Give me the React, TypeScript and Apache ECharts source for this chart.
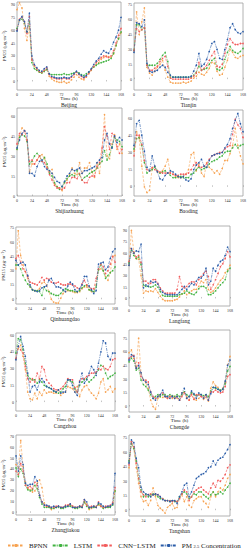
import React, { useEffect, useRef } from "react";
import * as echarts from "echarts";

const hours = [0, 4, 8, 12, 16, 20, 24, 28, 32, 36, 40, 44, 48, 52, 56, 60, 64, 68, 72, 76, 80, 84, 88, 92, 96, 100, 104, 108, 112, 116, 120, 124, 128, 132, 136, 140, 144, 148, 152, 156, 160, 164, 168];
const xTicks = [0, 24, 48, 72, 96, 120, 144, 168];
const cities = ["Beijing", "Tianjin", "Shijiazhuang", "Baoding", "Qinhuangdao", "Langfang", "Cangzhou", "Chengde", "Zhangjiakou", "Tangshan"];
const seriesNames = ["BPNN", "LSTM", "CNN\u2212LSTM", "PM2.5 Concentration"];
const yMins = [-10, -11, 0, -8, -5, -10, -8, -6, -2, -6];
const yMaxs = [93, 77, 66, 67, 76, 96, 62, 84, 71, 78];
const ySteps = [15, 15, 15, 15, 15, 15, 15, 15, 10, 15];

// Beijing
const beijingBPNN = [84, 92, 86, 62, 48, 64, 25, 18, 14, 11, 10, 12, 14, 6, 3, 1, 0, -1, -1, 0, -2, -1, 2, 5, 8, 5, 3, 2, 5, 9, 13, 17, 20, 22, 26, 28, 30, 29, 28, 32, 42, 50, 57];
const beijingLSTM = [62, 72, 73, 68, 58, 70, 22, 15, 13, 11, 10, 12, 14, 9, 8, 8, 8, 8, 8, 9, 8, 8, 9, 10, 11, 10, 8, 7, 9, 11, 14, 17, 19, 21, 22, 23, 24, 25, 27, 33, 42, 50, 58];
const beijingCNN = [60, 73, 75, 70, 56, 76, 26, 19, 15, 12, 11, 13, 16, 8, 5, 4, 3, 3, 3, 4, 3, 3, 5, 8, 11, 8, 6, 4, 6, 10, 14, 18, 22, 25, 28, 30, 29, 28, 30, 36, 45, 54, 62];
const beijingPM = [59, 72, 76, 70, 58, 80, 30, 20, 16, 13, 12, 15, 17, 9, 6, 5, 4, 4, 4, 5, 4, 4, 6, 9, 12, 9, 7, 5, 7, 11, 15, 20, 24, 27, 32, 36, 34, 33, 38, 46, 52, 60, 75];
// Tianjin
const tianjinBPNN = [29, 68, 45, 58, 72, 12, 6, 4, 8, 12, 15, 19, 9, 2, -3, -4, -4, -4, -4, -3, -4, -3, -2, 1, 3, 7, 5, 4, 7, 11, 17, 16, 8, 4, 5, 12, 19, 30, 27, 22, 21, 23, 24];
const tianjinLSTM = [29, 55, 55, 50, 52, 14, 14, 14, 14, 16, 20, 24, 27, 18, 2, 2, 2, 2, 2, 2, 2, 2, 2, 4, 7, 13, 9, 10, 11, 15, 19, 21, 10, 9, 11, 20, 27, 33, 29, 27, 26, 28, 31];
const tianjinCNN = [29, 51, 48, 50, 52, 14, 9, 9, 11, 13, 18, 21, 23, 13, 1, 0, 0, 0, 0, 0, 0, 0, 1, 3, 6, 17, 9, 11, 14, 19, 24, 28, 13, 12, 15, 26, 35, 41, 37, 35, 35, 36, 36];
const tianjinPM = [27, 57, 56, 53, 60, 16, 8, 7, 8, 9, 12, 14, 12, 7, 4, 2, 2, 2, 2, 2, 2, 2, 3, 8, 14, 26, 13, 15, 20, 28, 36, 38, 30, 21, 20, 30, 40, 52, 56, 50, 47, 46, 48];
// Shijiazhuang
const shijiazhuangBPNN = [35, 45, 51, 49, 42, 18, 24, 24, 27, 30, 31, 28, 22, 18, 20, 9, 7, 6, 4, 10, 12, 16, 21, 17, 16, 25, 17, 21, 21, 25, 18, 14, 25, 17, 33, 61, 30, 28, 39, 46, 35, 39, 32];
const shijiazhuangLSTM = [35, 44, 46, 45, 41, 24, 26, 30, 32, 30, 26, 29, 24, 17, 15, 10, 7, 5, 7, 10, 13, 15, 16, 15, 19, 16, 12, 14, 15, 17, 18, 19, 21, 24, 26, 34, 27, 31, 37, 44, 42, 41, 37];
const shijiazhuangCNN = [39, 47, 46, 49, 42, 26, 27, 24, 27, 30, 26, 25, 21, 16, 12, 8, 6, 6, 5, 6, 10, 10, 14, 14, 13, 17, 12, 10, 10, 14, 15, 15, 22, 25, 36, 52, 45, 35, 47, 45, 37, 32, 35];
const shijiazhuangPM = [36, 42, 47, 49, 47, 17, 17, 15, 22, 26, 27, 22, 20, 19, 17, 14, 11, 10, 7, 11, 15, 17, 20, 19, 20, 21, 17, 19, 19, 20, 21, 22, 25, 27, 29, 42, 47, 39, 36, 45, 40, 44, 42];
// Baoding
const baodingBPNN = [31, 48, 42, 18, 0, -5, -3, 16, 18, 13, 12, 14, 18, 24, 12, 11, 9, 8, 8, 9, 11, 15, 28, 30, 14, 20, 12, 9, 21, 17, 15, 12, 14, 11, 16, 23, 23, 29, 36, 51, 36, 27, 20];
const baodingLSTM = [33, 42, 43, 36, 21, 12, 14, 15, 17, 14, 12, 13, 14, 12, 10, 8, 8, 9, 9, 8, 8, 8, 11, 12, 15, 17, 15, 16, 17, 20, 22, 23, 24, 26, 27, 30, 31, 31, 34, 37, 34, 36, 37];
const baodingCNN = [27, 45, 45, 37, 23, 15, 14, 17, 15, 14, 13, 12, 12, 12, 12, 11, 10, 10, 11, 11, 11, 12, 15, 19, 21, 18, 17, 18, 20, 24, 27, 28, 29, 30, 30, 33, 35, 36, 46, 59, 54, 51, 43];
const baodingPM = [36, 55, 58, 45, 31, 17, 14, 27, 18, 13, 7, 6, 10, 12, 14, 13, 11, 9, 8, 9, 6, 5, 7, 15, 19, 21, 24, 18, 17, 23, 27, 28, 29, 29, 30, 34, 37, 42, 51, 58, 64, 55, 48];
// Qinhuangdao
const qinhuangdaoBPNN = [32, 72, 46, 36, 29, 22, 13, 10, 9, 9, 11, 17, 18, 15, 8, 0, -3, -4, -4, 1, 6, 8, 9, 9, 8, 7, 7, 8, 11, 13, 13, 10, 8, 8, 15, 31, 32, 30, 24, 20, 28, 45, 46];
const qinhuangdaoLSTM = [36, 36, 32, 25, 20, 16, 13, 10, 9, 9, 8, 4, 13, 9, 8, 6, 5, 4, 4, 6, 9, 11, 10, 9, 9, 8, 8, 9, 12, 14, 15, 10, 9, 8, 13, 31, 36, 30, 22, 25, 28, 30, 34];
const qinhuangdaoCNN = [43, 46, 39, 32, 29, 24, 18, 17, 16, 15, 18, 23, 20, 22, 21, 18, 17, 17, 18, 16, 15, 15, 16, 16, 15, 14, 12, 11, 16, 20, 15, 13, 11, 11, 22, 32, 37, 34, 27, 30, 37, 45, 39];
const qinhuangdaoPM = [41, 36, 38, 39, 36, 25, 15, 10, 9, 8, 9, 12, 13, 14, 20, 22, 17, 13, 13, 12, 10, 8, 14, 18, 16, 10, 8, 11, 15, 24, 24, 14, 10, 6, 9, 37, 38, 39, 31, 34, 43, 50, 53];
// Langfang
const langfangBPNN = [44, 90, 62, 53, 52, 30, 7, 10, 9, 10, 9, 13, 8, 3, -1, -3, -3, -3, -3, -2, -1, 2, 6, 10, 5, 7, 10, 12, 12, 16, 23, 21, 25, 12, 8, 10, 14, 19, 24, 27, 34, 38, 44];
const langfangLSTM = [47, 64, 57, 53, 55, 45, 18, 16, 16, 15, 16, 18, 15, 9, 4, 3, 3, 3, 3, 3, 3, 5, 6, 7, 10, 8, 6, 5, 8, 13, 16, 16, 14, 5, 5, 7, 10, 14, 18, 21, 25, 36, 40];
const langfangCNN = [49, 66, 60, 55, 57, 48, 23, 23, 20, 20, 25, 25, 20, 14, 10, 7, 7, 7, 7, 7, 12, 29, 16, 14, 16, 20, 22, 22, 18, 25, 29, 33, 36, 29, 12, 18, 25, 33, 42, 46, 53, 62, 55];
const langfangPM = [44, 66, 60, 63, 62, 72, 14, 18, 16, 23, 21, 22, 19, 12, 8, 6, 5, 5, 5, 5, 5, 8, 12, 16, 12, 16, 20, 18, 23, 28, 27, 31, 40, 18, 23, 40, 36, 44, 49, 51, 57, 68, 62];
// Cangzhou
const cangzhouBPNN = [39, 48, 51, 41, 29, 9, 3, 2, 8, 3, 9, 6, 11, 8, 9, 9, 8, 8, 11, 6, 8, 9, 14, 13, 12, 9, 14, 5, 11, 14, 15, 11, 8, 6, 3, 8, 18, 21, 9, 11, 14, 9, 12];
const cangzhouLSTM = [44, 57, 56, 47, 35, 24, 21, 20, 20, 17, 20, 18, 15, 14, 13, 12, 10, 9, 8, 9, 12, 14, 20, 19, 18, 12, 9, 15, 18, 20, 21, 18, 20, 22, 26, 29, 33, 32, 26, 21, 23, 24, 26];
const cangzhouCNN = [39, 50, 47, 44, 32, 21, 18, 21, 18, 26, 21, 32, 29, 20, 17, 15, 12, 11, 11, 12, 14, 17, 21, 20, 20, 13, 9, 19, 21, 21, 23, 24, 26, 26, 27, 30, 29, 32, 30, 29, 32, 38, 39];
const cangzhouPM = [38, 50, 59, 50, 41, 26, 9, 14, 15, 11, 18, 21, 18, 14, 13, 12, 10, 9, 11, 8, 9, 9, 20, 20, 15, 9, 6, 18, 26, 17, 20, 26, 32, 29, 24, 35, 45, 55, 53, 41, 38, 44, 44];
// Chengde
const chengdeBPNN = [59, 62, 53, 44, 75, 37, 29, 26, 20, 7, 0, -3, 9, 11, 10, 11, 9, 11, 9, 11, 9, 7, 15, 16, 11, 7, 15, 8, 7, 9, 11, 8, 10, 6, 20, 27, 23, 21, 18, 20, 27, 46, 55];
const chengdeLSTM = [49, 53, 50, 40, 42, 29, 24, 22, 18, 13, 9, 11, 13, 11, 13, 13, 11, 13, 12, 11, 13, 11, 13, 16, 13, 11, 15, 13, 12, 13, 13, 12, 13, 11, 17, 21, 20, 19, 18, 19, 25, 39, 44];
const chengdeCNN = [53, 55, 56, 42, 48, 33, 29, 29, 27, 16, 11, 9, 11, 13, 15, 11, 9, 11, 11, 9, 11, 7, 11, 15, 9, 7, 13, 8, 13, 13, 11, 10, 12, 7, 16, 16, 18, 16, 15, 16, 22, 33, 35];
const chengdePM = [51, 57, 55, 42, 45, 37, 29, 27, 24, 16, 9, 7, 11, 13, 18, 11, 11, 9, 11, 9, 11, 7, 15, 20, 9, 11, 17, 14, 9, 15, 13, 9, 13, 7, 14, 21, 21, 19, 17, 19, 28, 45, 51];
// Zhangjiakou
const zhangjiakouBPNN = [44, 41, 66, 42, 28, 22, 21, 19, 20, 27, 30, 23, 9, 6, 5, 3, 4, 5, 6, 5, 5, 6, 7, 7, 6, 5, 5, 6, 5, 9, 8, 3, 4, 5, 6, 7, 6, 5, 5, 5, 6, 8, 20];
const zhangjiakouLSTM = [41, 33, 40, 36, 25, 21, 20, 21, 25, 22, 14, 8, 5, 5, 5, 4, 4, 5, 5, 4, 4, 5, 6, 6, 5, 4, 4, 5, 5, 10, 6, 4, 5, 5, 5, 8, 6, 4, 5, 5, 5, 7, 20];
const zhangjiakouCNN = [38, 35, 45, 38, 25, 23, 24, 22, 28, 25, 16, 10, 7, 6, 6, 5, 5, 6, 6, 5, 5, 7, 7, 8, 6, 5, 5, 6, 6, 12, 7, 5, 6, 6, 5, 10, 6, 5, 6, 6, 7, 9, 23];
const zhangjiakouPM = [52, 38, 52, 44, 27, 25, 26, 26, 33, 29, 16, 10, 7, 7, 6, 5, 6, 5, 6, 5, 5, 6, 6, 8, 5, 5, 5, 6, 5, 12, 10, 5, 5, 6, 5, 9, 8, 6, 5, 6, 6, 8, 36];
// Tangshan
const tangshanBPNN = [44, 71, 64, 44, 28, 14, 9, 10, 5, 10, 23, 14, 5, 2, 0, -3, 3, 5, 7, 2, 3, 12, 16, 9, 14, 5, 3, 10, 12, 14, 14, 9, 7, 3, 14, 19, 14, 19, 23, 21, 26, 33, 37];
const tangshanLSTM = [51, 69, 64, 51, 33, 21, 14, 16, 14, 16, 17, 16, 14, 12, 12, 10, 10, 9, 10, 9, 9, 14, 17, 19, 17, 12, 14, 17, 16, 19, 19, 16, 14, 12, 16, 19, 16, 17, 19, 17, 21, 24, 28];
const tangshanCNN = [47, 71, 66, 49, 33, 19, 16, 14, 16, 17, 16, 17, 16, 14, 12, 10, 10, 10, 9, 10, 9, 12, 17, 21, 19, 10, 14, 19, 21, 23, 24, 21, 19, 17, 23, 28, 24, 31, 30, 33, 37, 44, 47];
const tangshanPM = [49, 73, 70, 54, 44, 24, 19, 17, 16, 14, 16, 17, 16, 14, 11, 10, 10, 9, 10, 10, 7, 14, 19, 26, 28, 14, 19, 26, 33, 35, 37, 38, 40, 44, 45, 51, 47, 52, 54, 55, 59, 63, 68];

const panelSeries = [
  [beijingBPNN, beijingLSTM, beijingCNN, beijingPM],
  [tianjinBPNN, tianjinLSTM, tianjinCNN, tianjinPM],
  [shijiazhuangBPNN, shijiazhuangLSTM, shijiazhuangCNN, shijiazhuangPM],
  [baodingBPNN, baodingLSTM, baodingCNN, baodingPM],
  [qinhuangdaoBPNN, qinhuangdaoLSTM, qinhuangdaoCNN, qinhuangdaoPM],
  [langfangBPNN, langfangLSTM, langfangCNN, langfangPM],
  [cangzhouBPNN, cangzhouLSTM, cangzhouCNN, cangzhouPM],
  [chengdeBPNN, chengdeLSTM, chengdeCNN, chengdePM],
  [zhangjiakouBPNN, zhangjiakouLSTM, zhangjiakouCNN, zhangjiakouPM],
  [tangshanBPNN, tangshanLSTM, tangshanCNN, tangshanPM],
];

// layout (px): left, top, width, height of each plot box
const boxes = [
  [17, 2, 104, 88],
  [134, 3, 109, 87],
  [17, 108, 105, 88],
  [134, 110, 109, 86],
  [15, 227, 100, 77],
  [129, 226, 101, 80],
  [15, 333, 100, 78],
  [129, 330, 101, 82],
  [16, 435, 99, 80],
  [129, 435, 101, 81],
];

const colors = ["#F7A352", "#41B341", "#F25C5C", "#2A5CA8"];
const dashes = [[2.5, 1.5], [3, 1, 1, 1], [2.5, 1.5], [3, 1, 1, 1]];
const FONT = "'Liberation Serif', 'Times New Roman', serif";

export default function App() {
  const ref = useRef<HTMLDivElement>(null);
  useEffect(() => {
    document.body.style.margin = "0";
    const chart = echarts.init(ref.current!, null, { renderer: "svg" });
    const grids: any[] = [];
    const xAxes: any[] = [];
    const yAxes: any[] = [];
    const series: any[] = [];
    const graphics: any[] = [];
    boxes.forEach((b, i) => {
      const [left, top, width, height] = b;
      grids.push({ left, top, width, height, show: true, borderColor: "#a0a0a0", borderWidth: 0.8, backgroundColor: "#fff" });
      xAxes.push({
        type: "value", gridIndex: i, min: xTicks[0], max: xTicks[xTicks.length - 1], interval: 24,
        axisLine: { show: false },
        axisTick: { show: true, inside: true, length: 1.5, lineStyle: { color: "#888", width: 0.5 } },
        splitLine: { show: false },
        axisLabel: { fontSize: 4, margin: 2, color: "#333", fontFamily: FONT },
      });
      const step = ySteps[i];
      const leftCol = i % 2 === 0;
      yAxes.push({
        type: "value", gridIndex: i, min: yMins[i], max: yMaxs[i], interval: 1,
        axisLine: { show: false },
        axisTick: { show: false },
        splitLine: { show: false },
        axisLabel: {
          fontSize: 4, margin: 2, color: "#333", fontFamily: FONT,
          formatter: (v: number) => (v >= 0 && v % step === 0 ? String(v) : ""),
        },
        name: leftCol ? "{n|PM}{s|2.5}{n| (\u03bcg\u00b7m}{p|\u22123}{n|)}" : "",
        nameLocation: "middle",
        nameRotate: 90,
        nameGap: 8,
        nameTextStyle: {
          fontFamily: FONT, color: "#222",
          rich: {
            n: { fontSize: 5, fontFamily: FONT, color: "#222" },
            s: { fontSize: 3.5, fontFamily: FONT, color: "#222", verticalAlign: "bottom" },
            p: { fontSize: 3.5, fontFamily: FONT, color: "#222", verticalAlign: "top" },
          },
        },
      });
      panelSeries[i].forEach((arr, k) => {
        series.push({
          type: "line", name: seriesNames[k], xAxisIndex: i, yAxisIndex: i,
          data: hours.map((h, j) => [h, arr[j]]),
          symbol: "circle", symbolSize: 1.6, showSymbol: true,
          lineStyle: { width: 0.6, type: dashes[k], color: colors[k] },
          itemStyle: { color: colors[k] },
          z: 2 + k,
        });
      });
      const cx = left + width / 2;
      graphics.push({ type: "text", x: cx, y: top + height + 6, style: { text: "Time (h)", fontSize: 5, fontFamily: FONT, fill: "#222", textAlign: "center", textVerticalAlign: "top" } });
      graphics.push({ type: "text", x: cx, y: top + height + 12, style: { text: cities[i], fontSize: 5.5, fontFamily: FONT, fill: "#222", textAlign: "center", textVerticalAlign: "top" } });
    });
    chart.setOption({
      animation: false,
      backgroundColor: "#fff",
      grid: grids,
      xAxis: xAxes,
      yAxis: yAxes,
      series,
      graphic: graphics,
      legend: {
        data: seriesNames,
        left: 2, top: 537,
        itemWidth: 16, itemHeight: 4, itemGap: 4,
        textStyle: {
          fontSize: 7, fontFamily: FONT, color: "#222",
          rich: {
            n: { fontSize: 7, fontFamily: FONT, color: "#222" },
            s: { fontSize: 4.5, fontFamily: FONT, color: "#222", verticalAlign: "bottom" },
          },
        },
        formatter: (name: string) => (name === "PM2.5 Concentration" ? "{n|PM }{s|2.5}{n| Concentration}" : name),
      },
    });
    return () => chart.dispose();
  }, []);
  return <div ref={ref} style={{ position: "fixed", left: 0, top: 0, width: 249, height: 550 }} />;
}
